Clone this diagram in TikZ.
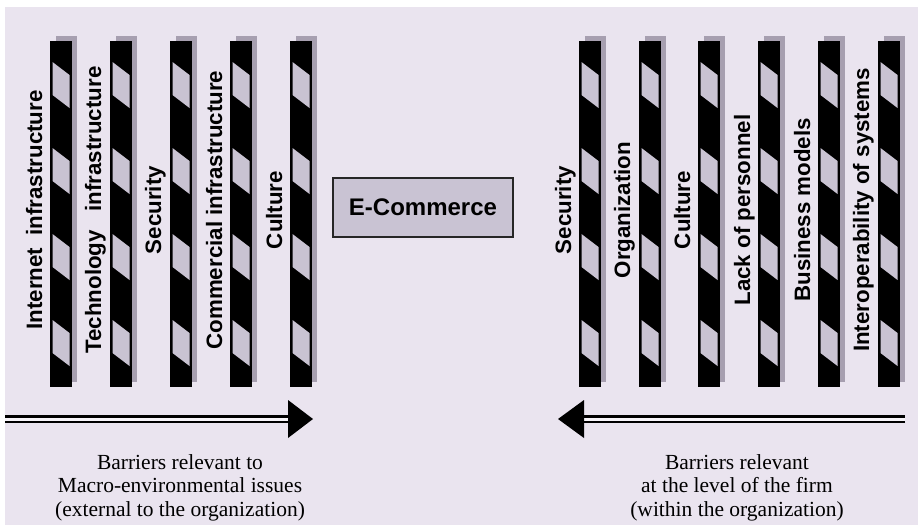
\documentclass[tikz,border=0pt]{standalone}
\usepackage{fontspec}
\setmainfont{Liberation Serif}
\setsansfont{Liberation Sans}
\definecolor{bgc}{HTML}{EAE4EF}
\definecolor{shadc}{HTML}{A79FB0}
\definecolor{lightc}{HTML}{C9C3D2}
\definecolor{boxc}{HTML}{C9C3D3}
\begin{document}
\begin{tikzpicture}[x=1pt,y=-1pt,
  lbl/.style={font=\sffamily\bfseries\fontsize{22.3}{24}\selectfont, rotate=90, inner sep=0pt, anchor=base},
  capt/.style={font=\fontsize{21.5}{23.5}\selectfont, align=center, inner sep=0pt, anchor=north},
  dbl/.style={draw=black, line width=2.5pt, double=bgc!40!white, double distance=3pt},
  barrier/.pic={
    \fill[shadc] (6,-5) rectangle (27,341);
    \fill[black] (0,0) rectangle (22,346);
    \foreach \t in {21,107,193,279}{
      \fill[lightc] (2.5,\t) -- (19.5,\t+13) -- (19.5,\t+46) -- (2.5,\t+33) -- cycle;
    }
  }]
\useasboundingbox (0,0) rectangle (918,531);
\fill[bgc] (5,7) rectangle (918,525);
% bars
\foreach \x in {50,110,170,230,290,579,639,698,758,818,878}
  \pic at (\x,41) {barrier};
% left labels (baseline x, centre y)
\node[lbl] (l1) at (42,210) {Internet\ \ infrastructure};
\node[lbl] (l2) at (101,210) {Technology\ \ \ infrastructure};
\node[lbl] (l3) at (161,210) {Security};
\node[lbl] (l4) at (222,210) {Commercial infrastructure};
\node[lbl] (l5) at (282,210) {Culture};
% right labels
\node[lbl] (r1) at (571,210) {Security};
\node[lbl] (r2) at (630,210) {Organization};
\node[lbl] (r3) at (690,210) {Culture};
\node[lbl] (r4) at (750,210) {Lack of personnel};
\node[lbl] (r5) at (810,210) {Business models};
\node[lbl] (r6) at (869,210) {Interoperability of systems};
% center box
\node[draw=black!85, line width=1.5pt, fill=boxc, minimum width=180pt, minimum height=59pt,
      font=\sffamily\bfseries\fontsize{24}{26}\selectfont] (ec) at (423,207.5) {E-Commerce};
% arrows
\coordinate (la) at (5,419);
\coordinate (lb) at (288,419);
\coordinate (lt) at (313,419);
\coordinate (lu) at (288,400);
\coordinate (ld) at (288,438);
\draw[dbl] (la) -- (lb);
\fill[black] (lu) -- (lt) -- (ld) -- cycle;
\coordinate (ra) at (905,419);
\coordinate (rb) at (584,419);
\coordinate (rt) at (558,419);
\coordinate (ru) at (584,400);
\coordinate (rd) at (584,438);
\draw[dbl] (ra) -- (rb);
\fill[black] (ru) -- (rt) -- (rd) -- cycle;
% captions
\node[capt] (cl) at (180,454) {Barriers relevant to\\Macro-environmental issues\\(external to the organization)};
\node[capt] (cr) at (737,454) {Barriers relevant\\at the level of the firm\\(within the organization)};
\end{tikzpicture}
\end{document}
